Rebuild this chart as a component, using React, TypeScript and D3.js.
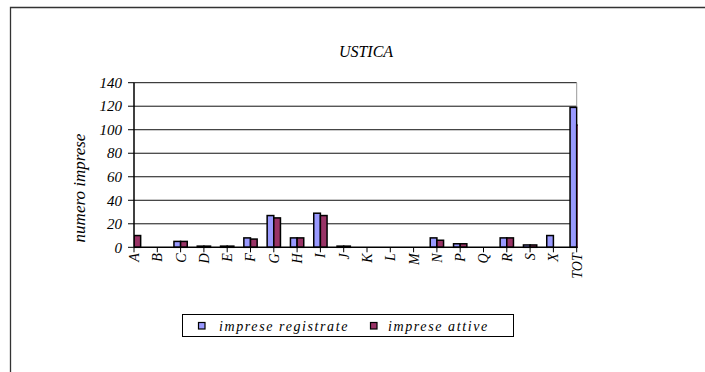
import React from "react";
import * as d3 from "d3";

const categories = ["A", "B", "C", "D", "E", "F", "G", "H", "I", "J", "K", "L", "M", "N", "P", "Q", "R", "S", "X", "TOT"];
const registrate = [8, 0, 5, 1, 1, 8, 27, 8, 29, 1, 0, 0, 0, 8, 3, 0, 8, 2, 10, 119];
const attive = [10, 0, 5, 1, 1, 7, 25, 8, 27, 1, 0, 0, 0, 6, 3, 0, 8, 2, 0, 104];
const yTicks = [0, 20, 40, 60, 80, 100, 120, 140];
const seriesNames = ["imprese registrate", "imprese attive"];
const colors = ["#9999FF", "#993366"];

const FONT = "Liberation Serif, Times New Roman, DejaVu Serif, serif";
const ts: React.CSSProperties = { fontFamily: FONT, fontStyle: "italic" };

export default function App() {
  const W = 705, H = 372;
  const left = 134, right = 576.7, top = 82.7, bottom = 247.3;
  const x = d3.scalePoint<string>().domain(categories).range([left, right]);
  const y = d3.scaleLinear().domain([0, 140]).range([bottom, top]);
  const step = x.step();
  const bw = step / 3.5;

  return (
    <div style={{ position: "absolute", left: 0, top: 0 }}>
      <svg width={W} height={H} style={{ display: "block", fontFamily: FONT }}>
        <rect x={0} y={0} width={W} height={H} fill="#fff" />
        <path d={`M10.5,${H} V7.5 H${W}`} fill="none" stroke="#333" strokeWidth={1.3} />
        <text x={366} y={56.5} textAnchor="middle" fontSize={16} style={ts}>USTICA</text>
        {yTicks.filter((t) => t > 0).map((t) => (
          <line key={t} x1={left} x2={right} y1={y(t)} y2={y(t)} stroke="#111" strokeWidth={1} />
        ))}
        <line x1={right} x2={right} y1={top} y2={bottom} stroke="#999" strokeWidth={1} />
        <defs>
          <clipPath id="plotclip">
            <rect x={left} y={top - 2} width={right - left + 1} height={bottom - top + 4} />
          </clipPath>
        </defs>
        <g clipPath="url(#plotclip)">
          {categories.map((c, i) => {
            const cx = x(c) as number;
            const vals = [registrate[i], attive[i]];
            return vals.map((v, s) =>
              v > 0 ? (
                <rect
                  key={c + s}
                  x={cx - bw + s * bw}
                  y={y(v)}
                  width={bw}
                  height={bottom - y(v)}
                  fill={colors[s]}
                  stroke="#000"
                  strokeWidth={1.5}
                />
              ) : null
            );
          })}
        </g>
        <line x1={left} x2={left} y1={top} y2={bottom} stroke="#000" strokeWidth={1.5} />
        <line x1={left} x2={right} y1={bottom} y2={bottom} stroke="#000" strokeWidth={1.5} />
        {yTicks.map((t) => (
          <g key={t}>
            <line x1={left - 6} x2={left} y1={y(t)} y2={y(t)} stroke="#000" strokeWidth={1} />
            <text x={122} y={y(t)} dy="0.35em" textAnchor="end" fontSize={15} style={ts}>{t}</text>
          </g>
        ))}
        {categories.map((c) => {
          const cx = x(c) as number;
          return (
            <g key={c}>
              <line x1={cx} x2={cx} y1={bottom} y2={bottom + 5} stroke="#000" strokeWidth={1} />
              <text
                transform={`translate(${cx},${bottom + 6}) rotate(-90)`}
                dy="0.35em"
                textAnchor="end"
                fontSize={14}
                style={ts}
              >
                {c}
              </text>
            </g>
          );
        })}
        <text
          transform={`translate(85,188) rotate(-90)`}
          textAnchor="middle"
          fontSize={17}
          style={ts}
        >
          numero imprese
        </text>
        <rect x={182.5} y={314.5} width={331} height={22} fill="#fff" stroke="#000" strokeWidth={1} />
        {seriesNames.map((n, s) => {
          const sx = [198.5, 370.5][s];
          const tx = [219, 388][s];
          return (
            <g key={n}>
              <rect x={sx} y={322.5} width={6.5} height={6.5} fill={colors[s]} stroke="#000" strokeWidth={1.2} />
              <text x={tx} y={330.5} fontSize={14} letterSpacing={1.6} style={ts}>{n}</text>
            </g>
          );
        })}
      </svg>
    </div>
  );
}
